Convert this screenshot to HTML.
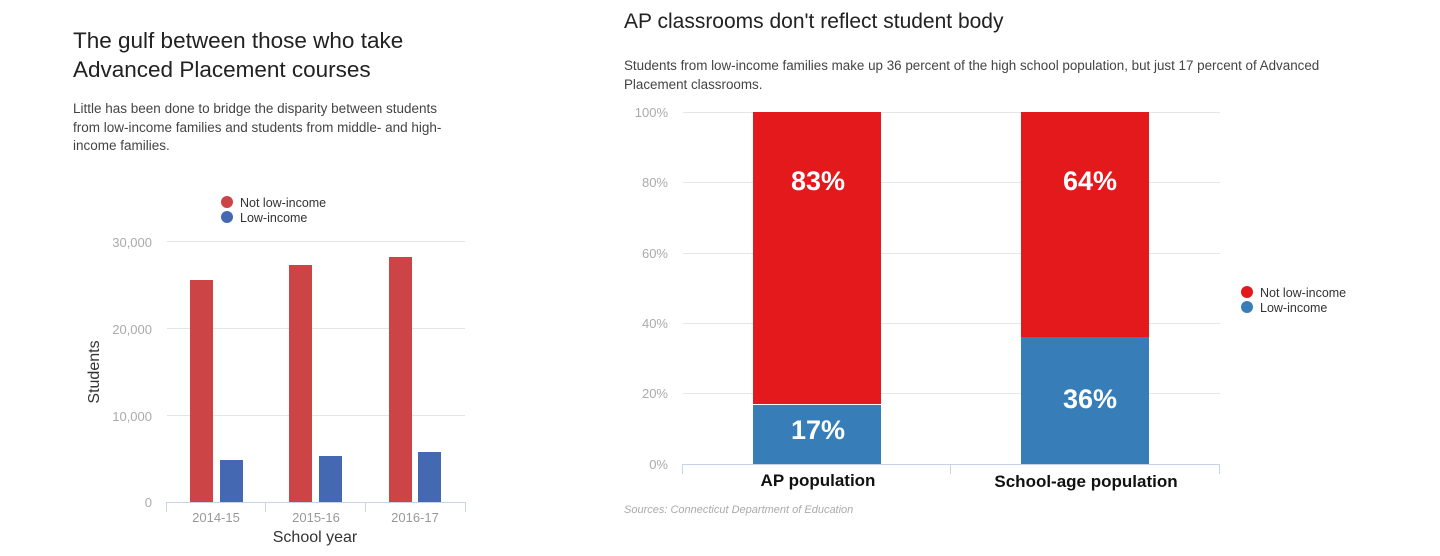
<!DOCTYPE html>
<html><head><meta charset="utf-8"><style>
body{margin:0;width:1440px;height:556px;background:#fff;position:relative;overflow:hidden;font-family:"Liberation Sans",sans-serif}
.a{position:absolute;white-space:nowrap}
</style></head><body>
<div class="a" style="left:73px;top:26px;font-size:22.5px;line-height:29px;color:#222">The gulf between those who take<br>Advanced Placement courses</div>
<div class="a" style="left:73px;top:100px;font-size:13.5px;line-height:18.5px;color:#444">Little has been done to bridge the disparity between students<br>from low-income families and students from middle- and high-<br>income families.</div>
<div class="a" style="left:624px;top:10px;font-size:21px;color:#222">AP classrooms don't reflect student body</div>
<div class="a" style="left:624px;top:57px;font-size:13.4px;line-height:18.5px;color:#444">Students from low-income families make up 36 percent of the high school population, but just 17 percent of Advanced<br>Placement classrooms.</div>
<svg class="a" style="left:0;top:0" width="1440" height="556" font-family="Liberation Sans, sans-serif">
<circle cx="227" cy="202" r="6" fill="#cc4446"/><text x="240" y="207" font-size="12.5" fill="#333">Not low-income</text>
<circle cx="227" cy="217" r="6" fill="#4469b2"/><text x="240" y="222" font-size="12.5" fill="#333">Low-income</text>
<g stroke="#e4e4e4"><line x1="167" x2="465" y1="241.5" y2="241.5"/><line x1="167" x2="465" y1="328.5" y2="328.5"/><line x1="167" x2="465" y1="415.5" y2="415.5"/></g>
<g font-size="13" fill="#aaa" text-anchor="end"><text x="152" y="247">30,000</text><text x="152" y="334">20,000</text><text x="152" y="421">10,000</text><text x="152" y="507">0</text></g>
<g fill="#cc4446"><rect x="190" y="280" width="23" height="222"/><rect x="289" y="265" width="23" height="237"/><rect x="389" y="257" width="23" height="245"/></g>
<g fill="#4469b2"><rect x="220" y="460" width="23" height="42"/><rect x="319" y="456" width="23" height="46"/><rect x="418" y="452" width="23" height="50"/></g>
<g stroke="#c8d3e6"><line x1="166" x2="466" y1="502.5" y2="502.5"/><line x1="166.5" x2="166.5" y1="502" y2="512"/><line x1="265.5" x2="265.5" y1="502" y2="512"/><line x1="365.5" x2="365.5" y1="502" y2="512"/><line x1="465.5" x2="465.5" y1="502" y2="512"/></g>
<g font-size="13" fill="#999" text-anchor="middle"><text x="216" y="522">2014-15</text><text x="316" y="522">2015-16</text><text x="415" y="522">2016-17</text></g>
<text x="315" y="542" font-size="16" fill="#333" text-anchor="middle">School year</text>
<text transform="translate(99,372) rotate(-90)" font-size="16" fill="#333" text-anchor="middle">Students</text>
<g stroke="#e6e6e6"><line x1="683" x2="1220" y1="112.5" y2="112.5"/><line x1="683" x2="1220" y1="182.5" y2="182.5"/><line x1="683" x2="1220" y1="253.5" y2="253.5"/><line x1="683" x2="1220" y1="323.5" y2="323.5"/><line x1="683" x2="1220" y1="393.5" y2="393.5"/></g>
<g font-size="13" fill="#aaa" text-anchor="end"><text x="668" y="117">100%</text><text x="668" y="187">80%</text><text x="668" y="258">60%</text><text x="668" y="328">40%</text><text x="668" y="398">20%</text><text x="668" y="469">0%</text></g>
<rect x="753" y="112" width="128" height="292" fill="#e3191c"/><rect x="753" y="405" width="128" height="59" fill="#377eb8"/>
<rect x="1021" y="112" width="128" height="225" fill="#e3191c"/><rect x="1021" y="337" width="128" height="127" fill="#377eb8"/>
<g font-size="27" font-weight="bold" fill="#fff" text-anchor="middle"><text x="818" y="190">83%</text><text x="818" y="439">17%</text><text x="1090" y="190">64%</text><text x="1090" y="408">36%</text></g>
<g stroke="#c8d3e6"><line x1="682" x2="1220" y1="464.5" y2="464.5"/><line x1="682.5" x2="682.5" y1="464" y2="474"/><line x1="950.5" x2="950.5" y1="464" y2="474"/><line x1="1219.5" x2="1219.5" y1="464" y2="474"/></g>
<g font-size="17" font-weight="bold" fill="#111" text-anchor="middle"><text x="818" y="486">AP population</text><text x="1086" y="487">School-age population</text></g>
<text x="624" y="513" font-size="11" font-style="italic" fill="#aaa">Sources: Connecticut Department of Education</text>
<circle cx="1247" cy="292" r="6" fill="#e3191c"/><text x="1260" y="297" font-size="12.5" fill="#333">Not low-income</text>
<circle cx="1247" cy="307" r="6" fill="#377eb8"/><text x="1260" y="312" font-size="12.5" fill="#333">Low-income</text>
</svg>
</body></html>
